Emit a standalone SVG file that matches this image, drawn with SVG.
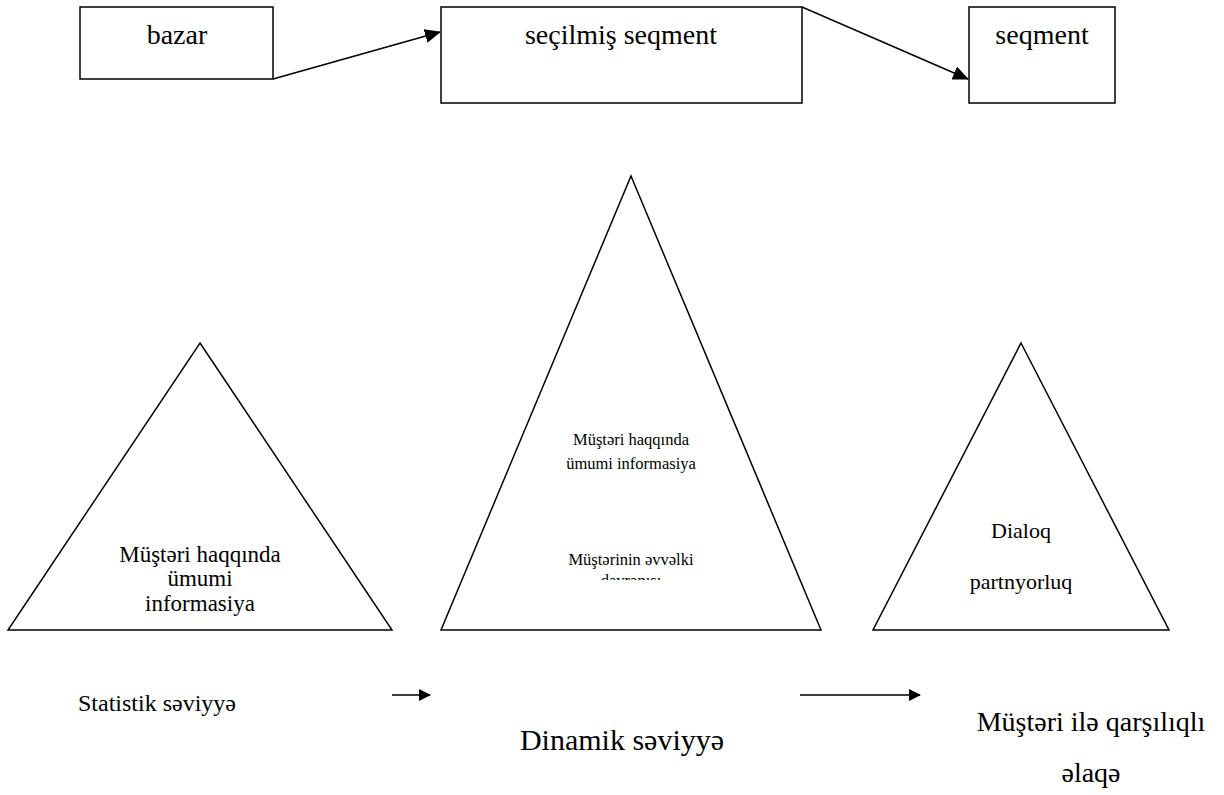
<svg xmlns="http://www.w3.org/2000/svg" width="1224" height="795" viewBox="0 0 1224 795">
<style>
.box{fill:#fff;stroke:#000;stroke-width:1.5}
.tri{fill:#fff;stroke:#000;stroke-width:1.5}
.line{stroke:#000;stroke-width:1.5;fill:none}
.t{font-family:"Times New Roman","Liberation Serif",serif;fill:#000;text-anchor:middle}
.top{font-size:28px}
.mid{font-size:16.5px}
.left{font-size:23px}
.right{font-size:22px}
</style>
<defs>
<marker id="ah" markerWidth="12" markerHeight="12" refX="11" refY="6" orient="auto" markerUnits="userSpaceOnUse">
<path d="M0,0 L12,6 L0,12 Z" fill="#000"/>
</marker>
<marker id="ah2" markerWidth="16" markerHeight="14" refX="15" refY="7" orient="auto" markerUnits="userSpaceOnUse">
<path d="M0,0 L16,7 L0,14 Z" fill="#000"/>
</marker>
<clipPath id="clipMid"><rect x="441" y="170" width="380" height="410"/></clipPath>
</defs>
<rect width="1224" height="795" fill="#fff"/>
<g id="connectors">
<line class="line" x1="273" y1="79" x2="440" y2="32" marker-end="url(#ah2)"/>
<line class="line" x1="802" y1="7" x2="968" y2="79" marker-end="url(#ah2)"/>
<line class="line" x1="392" y1="695" x2="430" y2="695" marker-end="url(#ah)"/>
<line class="line" x1="800" y1="695" x2="920" y2="695" marker-end="url(#ah)"/>
</g>
<g id="node-bazar">
<rect class="box" x="80" y="7" width="193" height="72"/>
<text class="t top" x="177" y="44">bazar</text>
</g>
<g id="node-secilmis">
<rect class="box" x="441" y="7" width="361" height="96"/>
<text class="t top" x="621" y="44">seçilmiş seqment</text>
</g>
<g id="node-seqment">
<rect class="box" x="969" y="7" width="146" height="96"/>
<text class="t top" x="1042" y="44">seqment</text>
</g>
<g id="node-tri-left">
<polygon class="tri" points="200,343 392,630 8,630"/>
<text class="t left" x="200" y="562">Müştəri haqqında</text>
<text class="t left" x="200" y="586">ümumi</text>
<text class="t left" x="200" y="611">informasiya</text>
</g>
<g id="node-tri-mid">
<polygon class="tri" points="631,176 821,630 441,630"/>
<text class="t mid" x="631" y="445">Müştəri haqqında</text>
<text class="t mid" x="631" y="469">ümumi informasiya</text>
<g clip-path="url(#clipMid)">
<text class="t mid" x="631" y="565">Müştərinin əvvəlki</text>
<text class="t mid" x="631" y="586">davranışı</text>
</g>
</g>
<g id="node-tri-right">
<polygon class="tri" points="1021,343 1169,630 873,630"/>
<text class="t right" x="1021" y="538">Dialoq</text>
<text class="t right" x="1021" y="589">partnyorluq</text>
</g>
<g id="labels">
<text class="t" font-size="24" x="157" y="711">Statistik səviyyə</text>
<text class="t" font-size="30" x="622" y="750">Dinamik səviyyə</text>
<text class="t" font-size="28" x="1091" y="731">Müştəri ilə qarşılıqlı</text>
<text class="t" font-size="28" x="1091" y="782">əlaqə</text>
</g>
</svg>
